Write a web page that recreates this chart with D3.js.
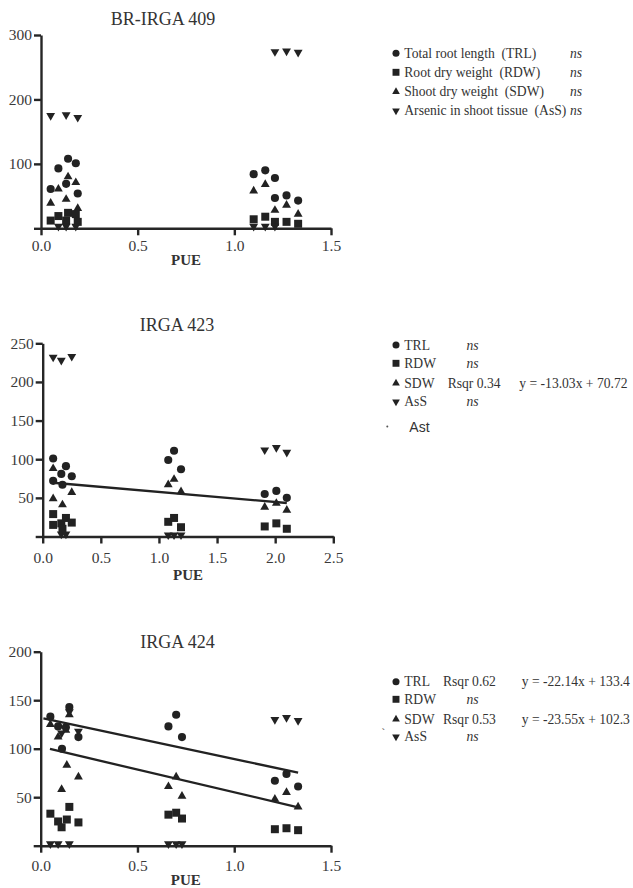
<!DOCTYPE html>
<html>
<head>
<meta charset="utf-8">
<script src="https://cdn.jsdelivr.net/npm/d3@7"></script>
<style>
  body { margin: 0; background: #fff; }
  text { font-family: "Liberation Serif", "Times New Roman", serif; fill: #333; white-space: pre; }
  .axis path, .axis line { stroke: #262626; stroke-width: 2.4; }
  .axis text { font-size: 15.5px; fill: #3a3a3a; }
</style>
</head>
<body>
<div id="chart"></div>
<script>

// BR-IRGA 409
var p1TRL = [[0.05,61],[0.09,93],[0.14,108],[0.18,101],[0.13,69],[0.19,54],[1.10,84],[1.16,90],[1.21,78],[1.21,47],[1.27,51],[1.33,43]];
var p1RDW = [[0.05,12],[0.09,19],[0.14,24],[0.13,12],[0.18,22],[0.19,10],[1.10,14],[1.16,18],[1.21,10],[1.27,10],[1.33,7]];
var p1SDW = [[0.05,39],[0.09,61],[0.14,80],[0.13,45],[0.18,71],[0.19,31],[1.10,58],[1.16,68],[1.21,28],[1.27,36],[1.33,22]];
var p1AsS = [[0.05,175],[0.13,176],[0.19,172],[1.21,274],[1.27,275],[1.33,273],[0.09,3],[0.13,3],[0.18,3],[1.10,3],[1.16,3],[1.21,3]];

// IRGA 423
var p2TRL = [[0.09,101],[0.09,72],[0.20,91],[0.16,81],[0.17,67],[0.25,78],[1.08,99],[1.13,111],[1.19,87],[1.91,55],[2.01,59],[2.10,50]];
var p2RDW = [[0.09,29],[0.09,15],[0.16,17],[0.20,24],[0.25,18],[0.17,10],[1.08,19],[1.13,24],[1.19,12],[1.91,13],[2.01,17],[2.10,10]];
var p2SDW = [[0.09,88],[0.09,49],[0.17,41],[0.25,57],[1.08,67],[1.13,74],[1.19,58],[1.91,38],[2.01,43],[2.10,34]];
var p2AsS = [[0.09,232],[0.16,228],[0.25,233],[1.91,112],[2.01,115],[2.10,109],[0.16,3],[0.20,3],[1.08,2],[1.13,2],[1.19,2]];
var p2SDWfit = [[0.09,69.55],[2.10,43.36]];   // y = -13.03x + 70.72

// IRGA 424
var p3TRL = [[0.05,133],[0.09,123],[0.148,143],[0.11,100],[0.195,112],[0.13,122],[0.66,123],[0.70,135],[0.73,112],[1.21,67],[1.27,74],[1.33,61]];
var p3RDW = [[0.05,33],[0.09,25],[0.108,19],[0.135,27],[0.148,40],[0.195,24],[0.66,32],[0.70,34],[0.73,28],[1.21,17],[1.27,18],[1.33,16]];
var p3SDW = [[0.05,125],[0.09,112],[0.135,83],[0.108,58],[0.195,71],[0.13,119],[0.148,135],[0.66,61],[0.70,71],[0.73,51],[1.21,48],[1.27,55],[1.33,40]];
var p3AsS = [[0.108,116],[0.148,138],[0.195,118],[0.05,2],[0.09,2],[0.148,2],[0.66,2],[0.70,2],[0.73,2],[1.21,130],[1.27,132],[1.33,129]];
var p3TRLfit = [[0.014,131.3],[1.33,75.3]];
var p3SDWfit = [[0.048,99.7],[1.33,39.6]];

var p1Legend = [["Total root length  (TRL)", "ns", ""], ["Root dry weight  (RDW)", "ns", ""],
                ["Shoot dry weight  (SDW)", "ns", ""], ["Arsenic in shoot tissue  (AsS)", "ns", ""]];
var p2Legend = [["TRL", "ns", ""], ["RDW", "ns", ""], ["SDW", "Rsqr 0.34", "y = -13.03x + 70.72"], ["AsS", "ns", ""]];
var p3Legend = [["TRL", "Rsqr 0.62", "y = -22.14x + 133.4"], ["RDW", "ns", ""],
                ["SDW", "Rsqr 0.53", "y = -23.55x + 102.3"], ["AsS", "ns", ""]];

// ---- layout ----
var svg = d3.select("#chart").append("svg")
  .attr("width", 633)
  .attr("height", 888);

var ink = "#222";
var legFont = "13.6px";
var shapes = [
  { key: "TRL", type: d3.symbolCircle, size: 52, rot: 0 },
  { key: "RDW", type: d3.symbolSquare, size: 64, rot: 0 },
  { key: "SDW", type: d3.symbolTriangle, size: 34, rot: 0 },
  { key: "AsS", type: d3.symbolTriangle, size: 34, rot: 180 }
];

var panels = [
  { title: "BR-IRGA 409", titleX: 163, titleY: 25,
    x0: 41, x1: 331, y0: 228.3, y1: 35, xMax: 1.5, yMax: 300,
    xTicks: [0, 0.5, 1.0, 1.5], yTicks: [0, 100, 200, 300], labPad: 5, pueY: 265,
    series: [p1TRL, p1RDW, p1SDW, p1AsS], fits: [],
    legend: p1Legend, legRows: [53.3, 72.3, 91.7, 110.7], nsX: 570, rsqX: 570, eqX: 0 },
  { title: "IRGA 423", titleX: 177, titleY: 330.5,
    x0: 42.7, x1: 333.3, y0: 536.5, y1: 343.3, xMax: 2.5, yMax: 250,
    xTicks: [0, 0.5, 1.0, 1.5, 2.0, 2.5], yTicks: [0, 50, 100, 150, 200, 250], labPad: 8.5, pueY: 580,
    series: [p2TRL, p2RDW, p2SDW, p2AsS], fits: [p2SDWfit],
    legend: p2Legend, legRows: [345, 363.3, 383.3, 401.7], nsX: 466.5, rsqX: 447.7, eqX: 519.3 },
  { title: "IRGA 424", titleX: 177.5, titleY: 648,
    x0: 40.7, x1: 331, y0: 845.7, y1: 651.7, xMax: 1.5, yMax: 200,
    xTicks: [0, 0.5, 1.0, 1.5], yTicks: [0, 50, 100, 150, 200], labPad: 7, pueY: 884.5,
    series: [p3TRL, p3RDW, p3SDW, p3AsS], fits: [p3TRLfit, p3SDWfit],
    legend: p3Legend, legRows: [681.7, 699.3, 719.3, 736.7], nsX: 466.5, rsqX: 443, eqX: 521.7 }
];

panels.forEach(function(p) {
  var x = d3.scaleLinear().domain([0, p.xMax]).range([p.x0, p.x1]);
  var y = d3.scaleLinear().domain([0, p.yMax]).range([p.y0, p.y1]);
  var g = svg.append("g");

  // axes
  g.append("g")
    .attr("class", "axis")
    .attr("transform", `translate(0, ${p.y0})`)
    .call(d3.axisBottom(x).tickValues(p.xTicks).tickFormat(d3.format(".1f"))
      .tickSize(7).tickSizeOuter(0).tickPadding(p.labPad));

  g.append("g")
    .attr("class", "axis")
    .attr("transform", `translate(${p.x0}, 0)`)
    .call(d3.axisLeft(y).tickValues(p.yTicks).tickFormat(d => d === 0 ? "" : d)
      .tickSize(7).tickSizeOuter(0).tickPadding(2));

  // title + x label
  g.append("text")
    .attr("x", p.titleX)
    .attr("y", p.titleY)
    .attr("text-anchor", "middle")
    .style("font-size", "18px")
    .text(p.title);

  g.append("text")
    .attr("x", (p.x0 + p.x1) / 2)
    .attr("y", p.pueY)
    .attr("text-anchor", "middle")
    .style("font-size", "15px")
    .style("font-weight", "bold")
    .text("PUE");

  // points
  p.series.forEach(function(data, i) {
    var s = shapes[i];
    g.selectAll(null)
      .data(data)
      .enter()
      .append("path")
      .attr("d", d3.symbol().type(s.type).size(s.size))
      .attr("transform", d => `translate(${x(d[0])}, ${y(d[1])}) rotate(${s.rot})`)
      .attr("fill", ink);
  });

  // regression lines
  p.fits.forEach(function(f) {
    g.append("path")
      .datum(f)
      .attr("d", d3.line().x(d => x(d[0])).y(d => y(d[1])))
      .attr("fill", "none")
      .attr("stroke", ink)
      .attr("stroke-width", 2.3);
  });

  // legend
  var leg = g.append("g");
  p.legend.forEach(function(row, i) {
    var s = shapes[i];
    var cy = p.legRows[i];
    leg.append("path")
      .attr("d", d3.symbol().type(s.type).size(s.size * 0.75))
      .attr("transform", `translate(396, ${cy}) rotate(${s.rot})`)
      .attr("fill", ink);
    leg.append("text")
      .attr("x", 404.3)
      .attr("y", cy + 4.6)
      .style("font-size", legFont)
      .text(row[0]);
    var isNs = row[1] === "ns";
    leg.append("text")
      .attr("x", isNs ? p.nsX : p.rsqX)
      .attr("y", cy + 4.6)
      .style("font-size", legFont)
      .style("font-style", isNs ? "italic" : "normal")
      .text(row[1]);
    if (row[2]) {
      leg.append("text")
        .attr("x", p.eqX)
        .attr("y", cy + 4.6)
        .style("font-size", legFont)
        .text(row[2]);
    }
  });
});

// stray marks in the original figure
svg.append("circle").attr("cx", 387.3).attr("cy", 426.5).attr("r", 1).attr("fill", "#555");
svg.append("text")
  .attr("x", 409.3).attr("y", 431.5)
  .style("font-family", "'Liberation Sans', Arial, sans-serif")
  .style("font-size", "14px")
  .text("Ast");
svg.append("text")
  .attr("x", 381.5).attr("y", 736)
  .style("font-size", "11px")
  .text("`");
</script>
</body>
</html>
